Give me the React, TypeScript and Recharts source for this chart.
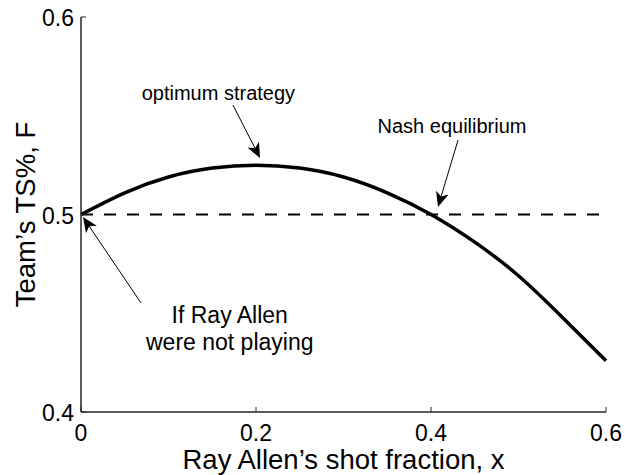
import React from 'react';
import {
  ComposedChart,
  Line,
  XAxis,
  YAxis,
  ReferenceLine,
  ReferenceDot,
} from 'recharts';

const FONT = '"Liberation Sans", Arial, Helvetica, sans-serif';
const FRAME = '#262626';

// Ray Allen's shot fraction vs team true shooting %
const shotFraction = [0, 0.05, 0.1, 0.15, 0.2, 0.25, 0.3, 0.35, 0.4, 0.45, 0.5, 0.55, 0.6];
const teamTS = [0.5, 0.511, 0.519, 0.5235, 0.525, 0.5235, 0.519, 0.511, 0.5, 0.486, 0.469, 0.448, 0.426];

// dashed reference: TS% without Ray Allen
const baselineX = [0, 0.6];
const baselineTS = [0.5, 0.5];

const xTicks = [0, 0.2, 0.4, 0.6];
const yTicks = [0.4, 0.5, 0.6];

const noteText = ['optimum strategy', 'Nash equilibrium', 'If Ray Allen', 'were not playing'];
const noteX = [0.157, 0.424, 0.17, 0.17];
const noteY = [0.558, 0.5413, 0.4451, 0.4314];
const noteSize = [20, 20, 23, 23];

// arrows: start -> tip, in data units
const arrowFromX = [0.1737, 0.4309, 0.0686];
const arrowFromY = [0.5554, 0.5377, 0.4552];
const arrowToX = [0.2046, 0.408, 0.0023];
const arrowToY = [0.5286, 0.5038, 0.4987];

const curveData = shotFraction.map((x, i) => ({ x, y: teamTS[i] }));
const baselineData = baselineX.map((x, i) => ({ x, y: baselineTS[i] }));

const BottomTick = (props: any) => {
  const { x, y, payload } = props;
  return (
    <g>
      <line x1={x} y1={y} x2={x} y2={y - 5} stroke={FRAME} strokeWidth={1} />
      <text x={x} y={y + 29} textAnchor="middle" fontSize={23} fontFamily={FONT} fill="#000">
        {String(payload.value)}
      </text>
    </g>
  );
};

const TopTick = (props: any) => {
  const { x, y } = props;
  return <line x1={x} y1={y} x2={x} y2={y + 5} stroke={FRAME} strokeWidth={1} />;
};

const LeftTick = (props: any) => {
  const { x, y, payload } = props;
  return (
    <g>
      <line x1={x} y1={y} x2={x + 5} y2={y} stroke={FRAME} strokeWidth={1} />
      <text x={x - 7} y={y + 9} textAnchor="end" fontSize={23} fontFamily={FONT} fill="#000">
        {String(payload.value)}
      </text>
    </g>
  );
};

const RightTick = (props: any) => {
  const { x, y } = props;
  return <line x1={x} y1={y} x2={x - 5} y2={y} stroke={FRAME} strokeWidth={1} />;
};

const Arrow = (props: any) => {
  const { x1, y1, x2, y2 } = props;
  const dx = x2 - x1;
  const dy = y2 - y1;
  const len = Math.sqrt(dx * dx + dy * dy) || 1;
  const ux = dx / len;
  const uy = dy / len;
  const nx = -uy;
  const ny = ux;
  const L = 15;
  const W = 6.5;
  const notch = 4;
  const bx = x2 - L * ux;
  const by = y2 - L * uy;
  const mx = x2 - (L - notch) * ux;
  const my = y2 - (L - notch) * uy;
  const pts = `${x2},${y2} ${bx + W * nx},${by + W * ny} ${mx},${my} ${bx - W * nx},${by - W * ny}`;
  return (
    <g>
      <line x1={x1} y1={y1} x2={mx} y2={my} stroke="#000" strokeWidth={1} />
      <polygon points={pts} fill="#000" />
    </g>
  );
};

const noteShape = (text: string, size: number) => (p: any) => (
  <text x={p.cx} y={p.cy} textAnchor="middle" fontSize={size} fontFamily={FONT} fill="#000">
    {text}
  </text>
);

const YTitle = (props: any) => {
  const { viewBox } = props;
  const cx = 35;
  const cy = viewBox.y + viewBox.height / 2;
  return (
    <text
      x={cx}
      y={cy}
      transform={`rotate(-90 ${cx} ${cy})`}
      textAnchor="middle"
      fontSize={27.5}
      fontFamily={FONT}
      fill="#000"
    >
      Team’s TS%, F
    </text>
  );
};

export default function App() {
  return (
    <div style={{ position: 'absolute', left: 0, top: 0, width: 625, height: 475, background: '#fff' }}>
      <ComposedChart width={625} height={475} margin={{ top: 17, right: 19, bottom: 0, left: 0 }}>
        <XAxis
          dataKey="x"
          type="number"
          domain={[0, 0.6]}
          ticks={xTicks}
          interval={0}
          height={63}
          tickSize={0}
          tickMargin={0}
          tickLine={false}
          tick={BottomTick}
          axisLine={{ stroke: FRAME, strokeWidth: 1.5 }}
          label={{
            value: 'Ray Allen’s shot fraction, x',
            position: 'insideBottom',
            offset: 6,
            fontSize: 27.5,
            fontFamily: FONT,
            fill: '#000',
          }}
        />
        <XAxis
          xAxisId="top"
          orientation="top"
          dataKey="x"
          type="number"
          domain={[0, 0.6]}
          ticks={xTicks}
          interval={0}
          height={0}
          tickSize={0}
          tickMargin={0}
          tickLine={false}
          tick={TopTick}
          axisLine={{ stroke: FRAME, strokeWidth: 1.5 }}
        />
        <YAxis
          type="number"
          domain={[0.4, 0.6]}
          ticks={yTicks}
          interval={0}
          width={81}
          tickSize={0}
          tickMargin={0}
          tickLine={false}
          tick={LeftTick}
          axisLine={{ stroke: FRAME, strokeWidth: 1.5 }}
          label={{ content: YTitle }}
        />
        <YAxis
          yAxisId="right"
          orientation="right"
          type="number"
          domain={[0.4, 0.6]}
          ticks={yTicks}
          interval={0}
          width={0}
          tickSize={0}
          tickMargin={0}
          tickLine={false}
          tick={RightTick}
          axisLine={{ stroke: FRAME, strokeWidth: 1.5 }}
        />

        <Line
          data={baselineData}
          xAxisId="top"
          yAxisId="right"
          dataKey="y"
          type="linear"
          stroke="#000"
          strokeWidth={2}
          strokeDasharray="12 11"
          dot={false}
          activeDot={false}
          isAnimationActive={false}
        />
        <Line
          data={curveData}
          dataKey="y"
          type="natural"
          stroke="#000"
          strokeWidth={3.5}
          dot={false}
          activeDot={false}
          isAnimationActive={false}
        />

        {arrowFromX.map((fx, i) => (
          <ReferenceLine
            key={`arrow-${i}`}
            segment={[
              { x: fx, y: arrowFromY[i] },
              { x: arrowToX[i], y: arrowToY[i] },
            ]}
            shape={Arrow}
          />
        ))}
        {noteText.map((t, i) => (
          <ReferenceDot key={`note-${i}`} x={noteX[i]} y={noteY[i]} r={0} shape={noteShape(t, noteSize[i])} />
        ))}
      </ComposedChart>
    </div>
  );
}
